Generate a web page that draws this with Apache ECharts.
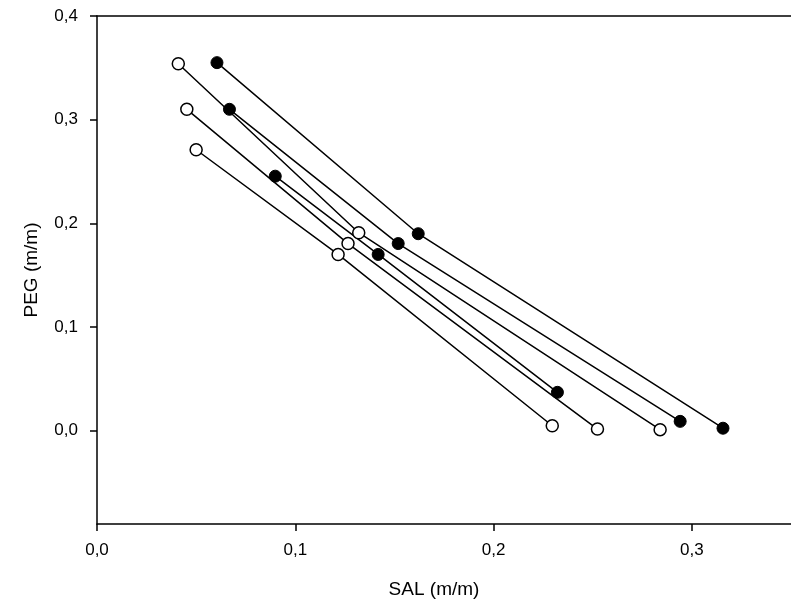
<!DOCTYPE html>
<html>
<head>
<meta charset="utf-8">
<script src="https://cdn.jsdelivr.net/npm/echarts@6/dist/echarts.min.js"></script>
<style>html,body{margin:0;padding:0;background:#fff}#c{width:791px;height:610px}</style>
</head>
<body>
<div id="c"></div>
<script>
// Tie lines: [SAL, PEG] for top phase, overall mixture, bottom phase
const open1 = [[0.041, 0.354], [0.132, 0.191], [0.284, 0.001]];
const open2 = [[0.0453, 0.310], [0.1266, 0.1805], [0.2524, 0.0016]];
const open3 = [[0.050, 0.271], [0.1216, 0.170], [0.2296, 0.0048]];
const filled1 = [[0.0605, 0.355], [0.162, 0.190], [0.3157, 0.0024]];
const filled2 = [[0.0668, 0.310], [0.1519, 0.1805], [0.2941, 0.009]];
const filled3 = [[0.0899, 0.2455], [0.1418, 0.170], [0.2322, 0.037]];
const xTicks = [0, 0.1, 0.2, 0.3];
const yTicks = [0, 0.1, 0.2, 0.3, 0.4];

const openLines = [open1, open2, open3];
const filledLines = [filled1, filled2, filled3];
const fmt = v => v.toFixed(1).replace('.', ',');
const font = '"Liberation Sans", Arial, sans-serif';

const series = [];
[...filledLines, ...openLines].forEach(d => {
  series.push({type: 'line', data: d, showSymbol: false, symbol: 'none', z: 2,
    lineStyle: {color: '#000', width: 1.5}, animation: false, silent: true});
});
filledLines.forEach(d => {
  series.push({type: 'scatter', data: d, symbol: 'circle', symbolSize: 12, z: 5,
    itemStyle: {color: '#000', borderColor: '#000', borderWidth: 1, opacity: 1}, animation: false});
});
openLines.forEach(d => {
  series.push({type: 'scatter', data: d, symbol: 'circle', symbolSize: 12, z: 5,
    itemStyle: {color: '#fff', borderColor: '#000', borderWidth: 1.5, opacity: 1}, animation: false});
});

const chart = echarts.init(document.getElementById('c'), null, {renderer: 'canvas'});
chart.setOption({
  backgroundColor: '#fff',
  animation: false,
  grid: {left: 97, right: 0, top: 16, bottom: 86, containLabel: false},
  xAxis: [{
    type: 'value', min: 0, max: 0.35, interval: 0.1,
    axisLine: {show: true, onZero: false, lineStyle: {color: '#000', width: 1.5}},
    axisTick: {show: true, inside: false, length: 7, customValues: xTicks, lineStyle: {color: '#000', width: 1.5}},
    axisLabel: {customValues: xTicks, formatter: fmt, color: '#000', fontSize: 17, fontFamily: font, margin: 18},
    splitLine: {show: false},
    name: 'SAL (m/m)', nameLocation: 'middle', nameGap: 56,
    nameTextStyle: {color: '#000', fontSize: 19, fontFamily: font, padding: [0, 20, 0, 0]}
  }, {
    type: 'value', position: 'top', min: 0, max: 0.35,
    axisLine: {show: true, onZero: false, lineStyle: {color: '#000', width: 1.5}},
    axisTick: {show: false}, axisLabel: {show: false}, splitLine: {show: false}
  }],
  yAxis: {
    type: 'value', min: -0.09, max: 0.4,
    axisLine: {show: true, onZero: false, lineStyle: {color: '#000', width: 1.5}},
    axisTick: {show: true, inside: false, length: 7, customValues: yTicks, lineStyle: {color: '#000', width: 1.5}},
    axisLabel: {customValues: yTicks, formatter: fmt, color: '#000', fontSize: 17, fontFamily: font, margin: 19},
    splitLine: {show: false},
    name: 'PEG (m/m)', nameLocation: 'middle', nameGap: 56,
    nameTextStyle: {color: '#000', fontSize: 19, fontFamily: font}
  },
  series: series
});
</script>
</body>
</html>
